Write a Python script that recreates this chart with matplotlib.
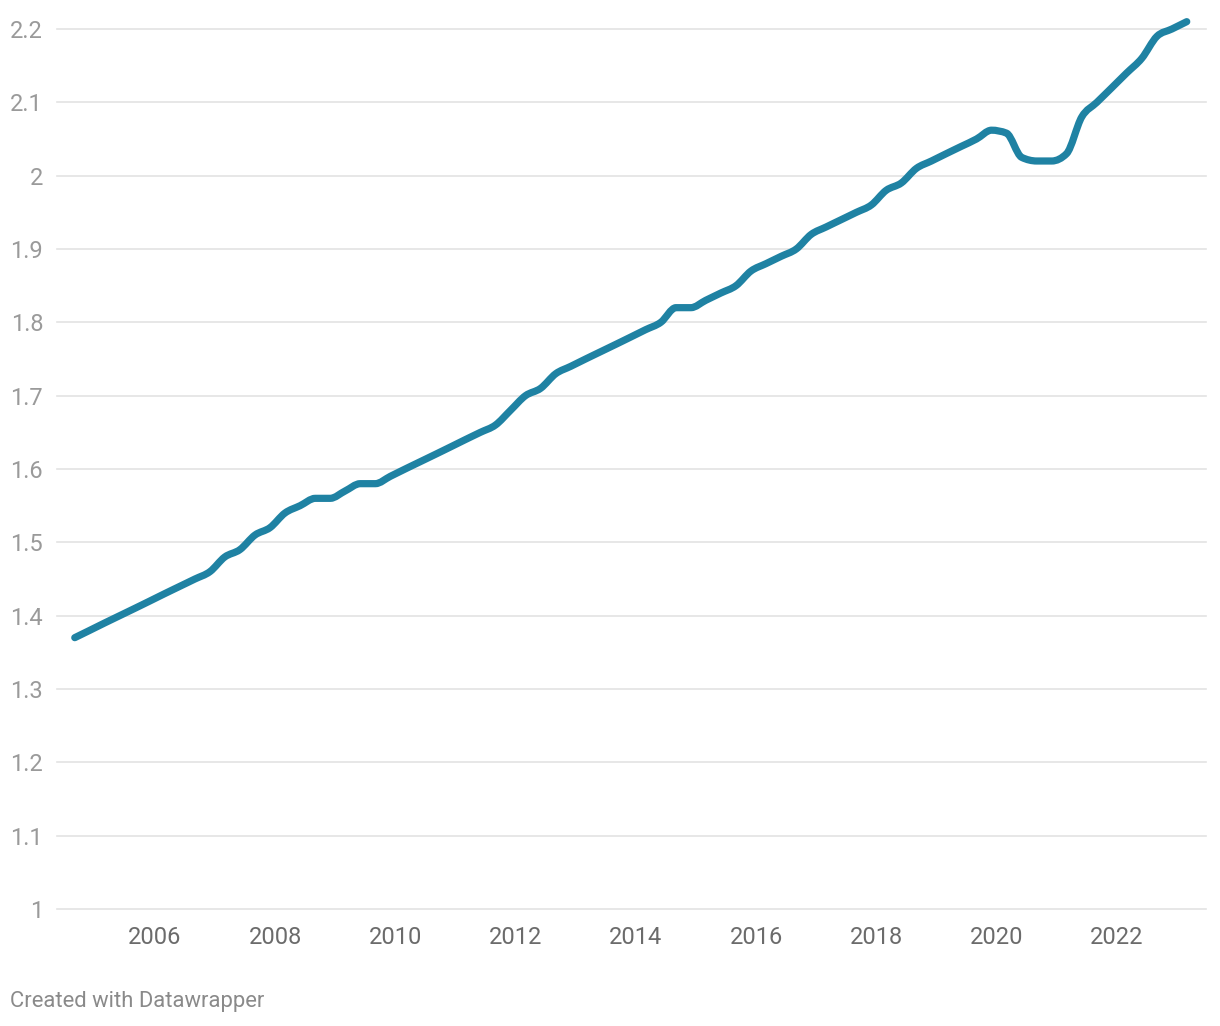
import numpy as np
import pandas as pd
import matplotlib
matplotlib.use("Agg")
import matplotlib.pyplot as plt
import matplotlib.dates as mdates
from matplotlib.path import Path
from matplotlib.patches import PathPatch

plt.rcParams['font.family'] = ['Roboto', 'DejaVu Sans']

# quarterly series, first point Sep 2004
first_quarter = "2004-09-01"
values = [1.37, 1.38, 1.39, 1.40, 1.41, 1.42, 1.43, 1.44, 1.45, 1.46,
          1.48, 1.49, 1.51, 1.52, 1.54, 1.55, 1.56, 1.56, 1.57, 1.58,
          1.58, 1.59, 1.60, 1.61, 1.62, 1.63, 1.64, 1.65, 1.66, 1.68,
          1.70, 1.71, 1.73, 1.74, 1.75, 1.76, 1.77, 1.78, 1.79, 1.80,
          1.82, 1.82, 1.83, 1.84, 1.85, 1.87, 1.88, 1.89, 1.90, 1.92,
          1.93, 1.94, 1.95, 1.96, 1.98, 1.99, 2.01, 2.02, 2.03, 2.04,
          2.05, 2.062, 2.058, 2.025, 2.02, 2.02, 2.03, 2.08, 2.10, 2.12,
          2.14, 2.16, 2.19, 2.20, 2.21]
y_ticks = [1.0, 1.1, 1.2, 1.3, 1.4, 1.5, 1.6, 1.7, 1.8, 1.9, 2.0, 2.1, 2.2]
y_labels = ["1", "1.1", "1.2", "1.3", "1.4", "1.5", "1.6", "1.7", "1.8", "1.9", "2", "2.1", "2.2"]
x_tick_years = [2006, 2008, 2010, 2012, 2014, 2016, 2018, 2020, 2022]

dates = pd.date_range(first_quarter, periods=len(values), freq="3MS")


def monotone_path(x, y):
    """Bezier path like d3 curveMonotoneX"""
    x = np.asarray(x, float)
    y = np.asarray(y, float)
    n = len(x)
    h = np.diff(x)
    s = np.diff(y) / h
    t = np.zeros(n)
    for i in range(1, n - 1):
        s0, s1 = s[i - 1], s[i]
        p = (s0 * h[i] + s1 * h[i - 1]) / (h[i - 1] + h[i])
        t[i] = (np.sign(s0) + np.sign(s1)) * min(abs(s0), abs(s1), 0.5 * abs(p))
    t[0] = (3 * s[0] - t[1]) / 2
    t[-1] = (3 * s[-1] - t[-2]) / 2
    verts = [(x[0], y[0])]
    codes = [Path.MOVETO]
    for i in range(n - 1):
        dx = h[i] / 3
        verts += [(x[i] + dx, y[i] + dx * t[i]),
                  (x[i + 1] - dx, y[i + 1] - dx * t[i + 1]),
                  (x[i + 1], y[i + 1])]
        codes += [Path.CURVE4] * 3
    return Path(verts, codes)


fig = plt.figure(figsize=(12.2, 10.26), dpi=100)
ax = fig.add_axes([57 / 1220, 117 / 1026, 1149 / 1220, 880 / 1026])

xnum = mdates.date2num(dates)
patch = PathPatch(monotone_path(xnum, values), facecolor='none', edgecolor='#1f82a3',
                  linewidth=5.2, capstyle='round', joinstyle='round', clip_on=False, zorder=3)
ax.add_patch(patch)

ax.set_xlim(pd.Timestamp("2006-01-01") - pd.Timedelta(days=595),
            pd.Timestamp("2022-01-01") + pd.Timedelta(days=541))
ax.set_ylim(1.0, 2.2)

ax.set_yticks(y_ticks)
ax.set_yticklabels(y_labels)
ax.set_xticks([pd.Timestamp(f"{yr}-01-01") for yr in x_tick_years])
ax.set_xticklabels([str(yr) for yr in x_tick_years])

ax.grid(axis='y', color='#e3e3e3', linewidth=1.2, clip_on=False)
ax.grid(axis='x', visible=False)
for sp in ax.spines.values():
    sp.set_visible(False)

ax.tick_params(axis='y', length=0, pad=10, labelsize=17, labelcolor='#9a9a9a')
ax.tick_params(axis='x', length=0, pad=12, labelsize=17, labelcolor='#6b6b6b')
for lbl in ax.get_yticklabels():
    lbl.set_verticalalignment('center_baseline')

fig.text(10 / 1220, 1 - 1002 / 1026, "Created with Datawrapper", fontsize=15.8,
         color='#8a8a8a', va='center', ha='left')

fig.savefig("out.png", dpi=100)
